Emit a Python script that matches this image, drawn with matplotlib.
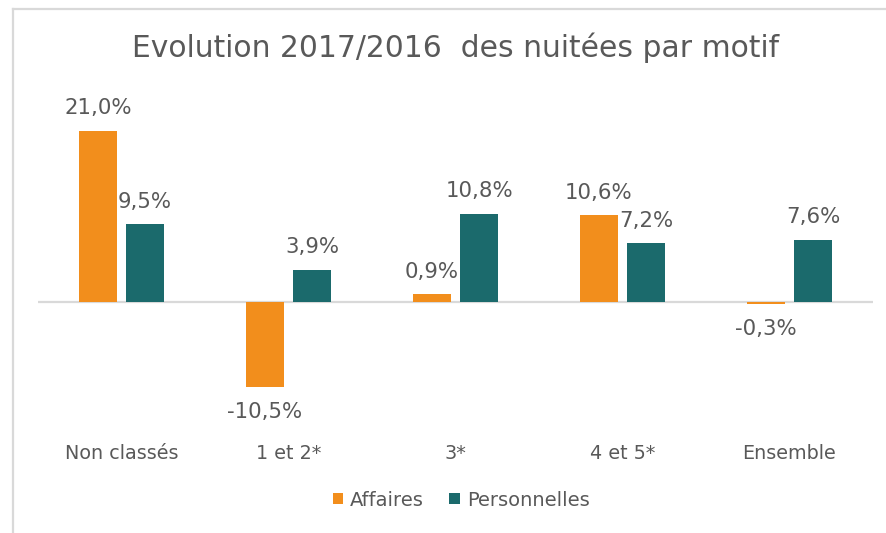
import matplotlib
matplotlib.use("Agg")
import matplotlib.pyplot as plt
from matplotlib.lines import Line2D
import numpy as np

categories = ["Non classés", "1 et 2*", "3*", "4 et 5*", "Ensemble"]
affaires = [21.0, -10.5, 0.9, 10.6, -0.3]
personnelles = [9.5, 3.9, 10.8, 7.2, 7.6]

ORANGE = "#F28E1C"
TEAL = "#1B6A6C"
TEXT = "#595959"
GRID = "#D9D9D9"

W, H = 887, 533
fig = plt.figure(figsize=(W / 100, H / 100), dpi=100)
plt.rcParams['font.family'] = ['DejaVu Sans']

# chart border: only top and left edges are visible
fig.add_artist(Line2D([13 / W, 1.0], [1 - 9 / H, 1 - 9 / H], transform=fig.transFigure,
                      color=GRID, linewidth=1.6))
fig.add_artist(Line2D([13 / W, 13 / W], [0, 1 - 9 / H], transform=fig.transFigure,
                      color=GRID, linewidth=1.6))

# axes box in pixels: x 38-873, y 120-420
ax = fig.add_axes([38 / W, 1 - 420 / H, 835 / W, 300 / H])
ppu = 8.14
ax.set_ylim(-(420 - 301.7) / ppu, (301.7 - 120) / ppu)

x = np.arange(len(categories))
w = 0.225
off = 0.141
b1 = ax.bar(x - off, affaires, w, color=ORANGE)
b2 = ax.bar(x + off, personnelles, w, color=TEAL)
ax.set_xlim(-0.5, len(categories) - 0.5)
ax.axhline(0, color=GRID, linewidth=1.6, zorder=0)

for bars, vals in ((b1, affaires), (b2, personnelles)):
    for b, v in zip(bars, vals):
        lab = f"{v:.1f}%".replace(".", ",")
        ax.annotate(lab, (b.get_x() + b.get_width() / 2, v),
                    xytext=(0, 9 if v >= 0 else -11), textcoords="offset points",
                    ha="center", va="bottom" if v >= 0 else "top",
                    fontsize=15.3, color=TEXT)

for s in ax.spines.values():
    s.set_visible(False)
ax.set_yticks([])
ax.set_xticks(x)
ax.set_xticklabels(categories, fontsize=13.8, color=TEXT)
ax.tick_params(axis="x", length=0, pad=17)

fig.text(456 / W, 1 - 48 / H, "Evolution 2017/2016  des nuitées par motif",
         ha="center", va="center", fontsize=21.4, color=TEXT)

leg = fig.legend([b1, b2], ["Affaires", "Personnelles"], loc="center",
                 bbox_to_anchor=(461 / W, 1 - 500 / H), ncol=2, frameon=False,
                 fontsize=14, handlelength=0.55, handleheight=0.55,
                 handletextpad=0.35, columnspacing=1.3)
for t in leg.get_texts():
    t.set_color(TEXT)

fig.savefig("out.png", dpi=100, facecolor="white")
